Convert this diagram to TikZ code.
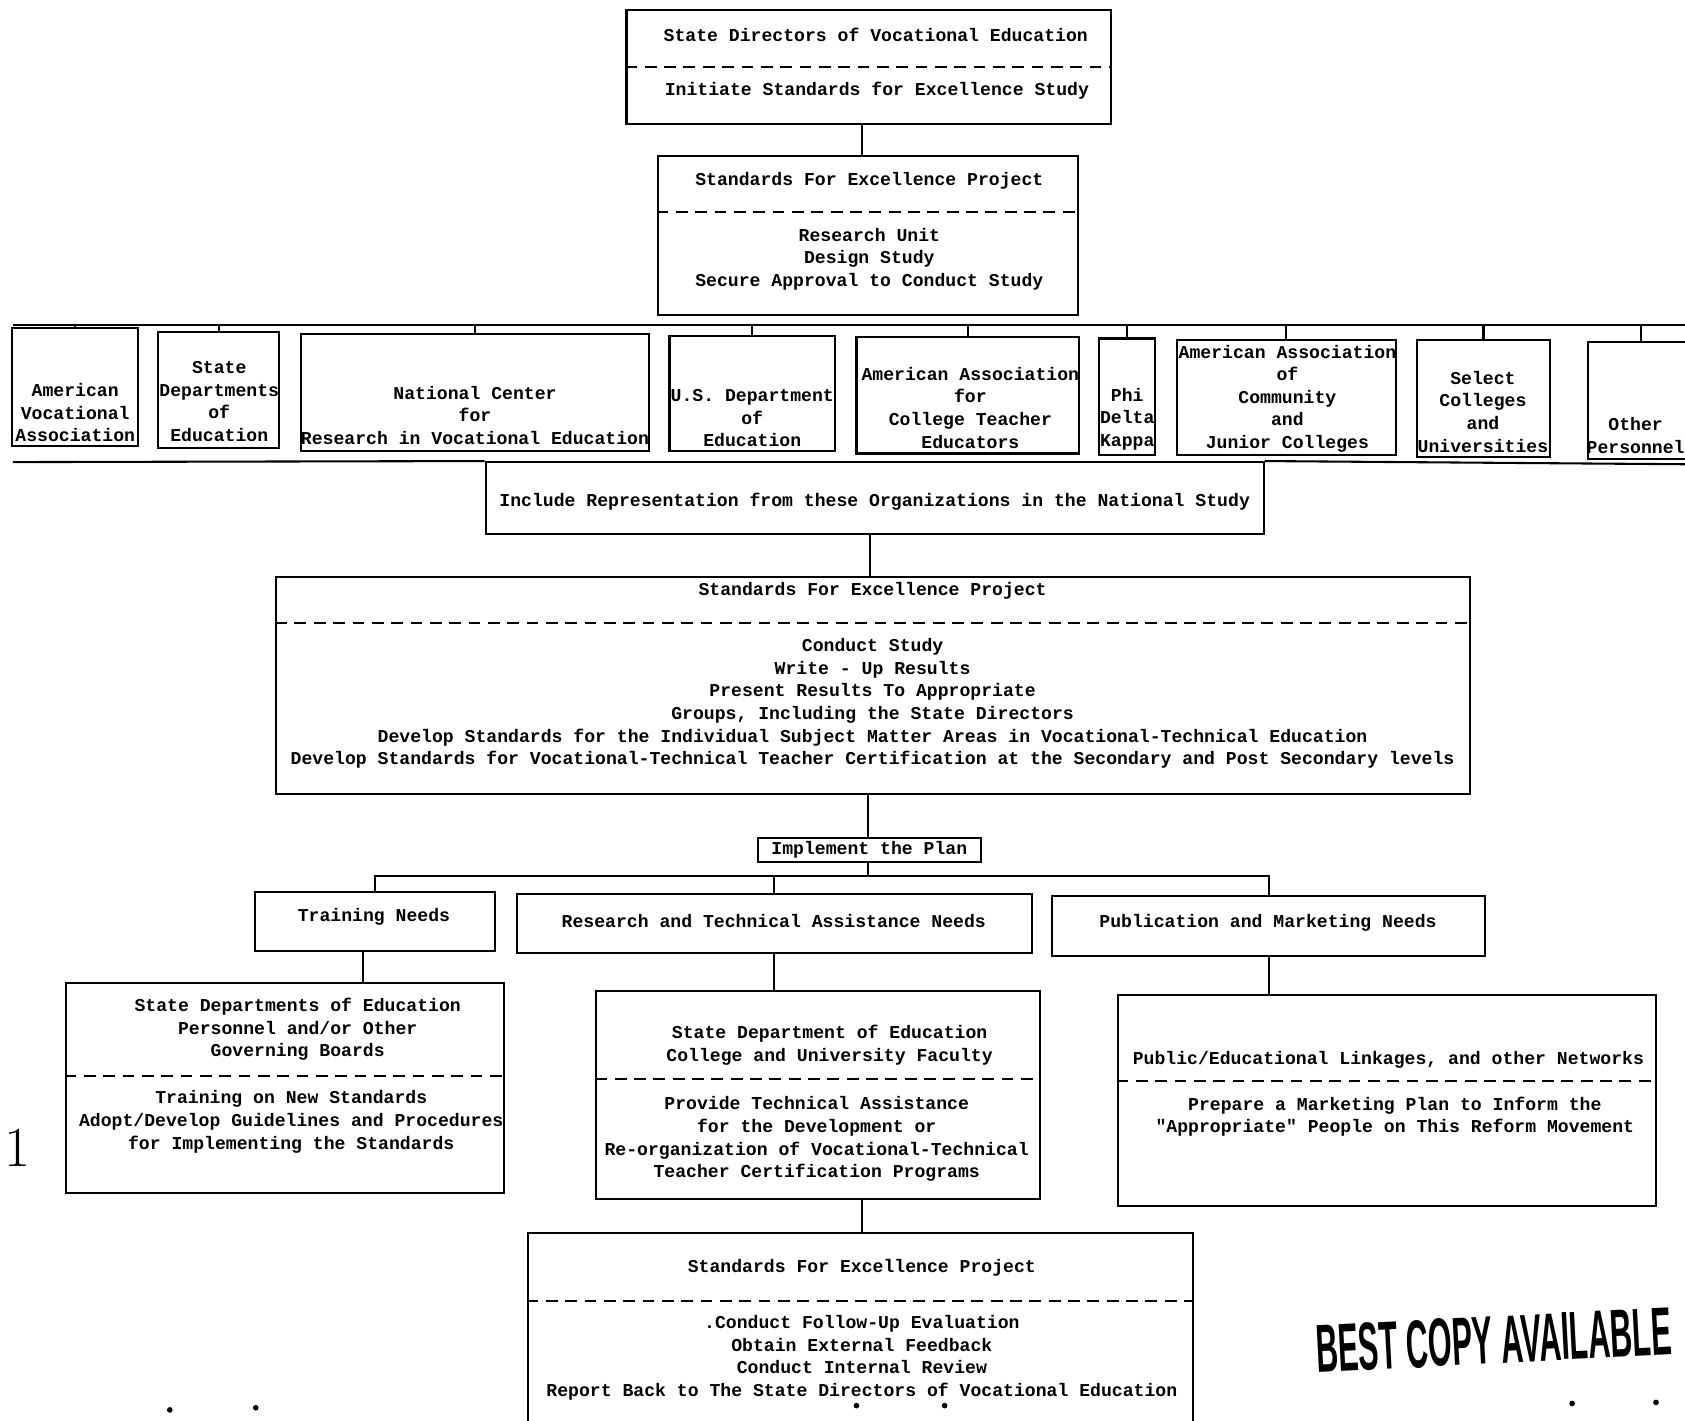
\documentclass[tikz,border=0pt]{standalone}
\usepackage{fontspec}
\setmonofont{Liberation Mono}
\setsansfont{Liberation Sans}
\usepackage{graphicx}
\usetikzlibrary{fit}
\newcommand\lblfont{\fontsize{9.6}{12}\selectfont\ttfamily\bfseries}
\tikzset{
  box/.style={draw, line width=1.1pt, inner sep=0pt, rectangle},
  lbl/.style={font=\lblfont, align=center, inner sep=0pt},
  dline/.style={line width=1.1pt, dash pattern=on 0.22cm off 0.14cm},
  conn/.style={line width=1.1pt},
}
\begin{document}
\begin{tikzpicture}[x=0.02cm, y=-0.02cm]
\fill[white] (0,0) rectangle (1568,1322);
\useasboundingbox (0,0) rectangle (1568,1322);

% top box
\node[box, fit={(583,9)(1034,115)}] (b1) {};
\node[lbl] (b1t) at (815,32) {State Directors of Vocational Education};
\draw[dline] (b1.west |- 0,62) -- (b1.east |- 0,62);
\node[lbl] (b1s) at (816,84) {Initiate Standards for Excellence Study};

% second box
\node[box, fit={(612,145)(1003,293)}] (b2) {};
\node[lbl] (b2t) at (809,168) {Standards For Excellence Project};
\draw[dline] (b2.west |- 0,197) -- (b2.east |- 0,197);
\node[lbl] (b2s) at (809,241) {Research Unit\\Design Study\\Secure Approval to Conduct Study};
\coordinate (c1) at (802,0);
\draw[conn] (c1 |- b1.south) -- (c1 |- b2.north);

% organisations
\coordinate (busL) at (12,302);
\coordinate (busR) at (1568,302);
\draw[conn] (busL) -- (busR);
\node[box, fit={(11,305)(128,415)}] (o1) {};
\node[lbl] (o1t) at (70,384) {American\\Vocational\\Association};
\node[box, fit={(147,309)(260,417)}] (o2) {};
\node[lbl] (o2t) at (204,373.5) {State\\Departments\\of\\Education};
\node[box, fit={(280,311)(604,420)}] (o3) {};
\node[lbl] (o3t) at (442,386.5) {National Center\\for\\Research in Vocational Education};
\node[box, fit={(623,313)(777,420)}] (o4) {};
\node[lbl] (o4t) at (700,389) {U.S. Department\\of\\Education};
\node[box, fit={(797,314)(1004,422)}] (o5) {};
\node[lbl] (o5t) at (903,379.5) {American Association\\for\\College Teacher\\Educators};
\node[box, fit={(1023,315)(1075,423)}] (o6) {};
\node[lbl] (o6t) at (1049,390) {Phi\\Delta\\Kappa};
\node[box, fit={(1095,316)(1299,423)}] (o7) {};
\node[lbl] (o7t) at (1198,371) {American Association\\of\\Community\\and\\Junior Colleges};
\node[box, fit={(1319,316)(1442,425)}] (o8) {};
\node[lbl] (o8t) at (1380,383) {Select\\Colleges\\and\\Universities};
\node[box, fit={(1478,318)(1590,427)}] (o9) {};
\node[lbl] (o9t) at (1522,405) {Other\\Personnel};
\foreach \o in {o1,o2,o3,o4,o5,o6,o7,o8}
  \draw[conn] (\o.north) -- (\o.north |- busL);
\coordinate (c9) at (1527,0);
\draw[conn] (c9 |- o9.north) -- (c9 |- busL);

% include representation
\coordinate (brL) at (12,430);
\coordinate (brR) at (1568,432);
\node[box, fit={(452,430)(1176,497)}] (inc) {};
\node[lbl] (inct) at (814,467) {Include Representation from these Organizations in the National Study};
\draw[conn] (brL) -- (inc.north west);
\draw[conn] (inc.north east) -- (brR);

% project box
\node[box, fit={(257,537)(1368,739)}] (b4) {};
\node[lbl] (b4t) at (812,550) {Standards For Excellence Project};
\draw[dline] (b4.west |- 0,580) -- (b4.east |- 0,580);
\node[lbl] (b4s) at (812,654.5) {Conduct Study\\Write - Up Results\\Present Results To Appropriate\\Groups, Including the State Directors\\Develop Standards for the Individual Subject Matter Areas in Vocational-Technical Education\\Develop Standards for Vocational-Technical Teacher Certification at the Secondary and Post Secondary levels};
\coordinate (c2) at (810,0);
\draw[conn] (c2 |- inc.south) -- (c2 |- b4.north);

% implement
\node[box, fit={(705,780)(913,802)}] (imp) {};
\node[lbl] (impt) at (809,791) {Implement the Plan};
\coordinate (c3) at (808,0);
\draw[conn] (c3 |- b4.south) -- (c3 |- imp.north);

% needs
\node[box, fit={(237,830)(461,885)}] (tn) {};
\node[lbl] (tnt) at (348,853) {Training Needs};
\node[box, fit={(481,832)(960,887)}] (rn) {};
\node[lbl] (rnt) at (720,857) {Research and Technical Assistance Needs};
\node[box, fit={(979,834)(1382,890)}] (pn) {};
\node[lbl] (pnt) at (1180,859) {Publication and Marketing Needs};
\coordinate (bus2) at (808,815);
\draw[conn] (c3 |- imp.south) -- (c3 |- bus2);
\draw[conn] (tn.north) -- (tn.north |- bus2) -- (pn.north |- bus2) -- (pn.north);
\draw[conn] (rn.north) -- (rn.north |- bus2);

% lower boxes
\node[box, fit={(61,915)(469,1110)}] (L) {};
\node[lbl] (L1) at (277,958) {State Departments of Education\\Personnel and/or Other\\Governing Boards};
\draw[dline] (L.west |- 0,1001) -- (L.east |- 0,1001);
\node[lbl] (L2) at (271,1044) {Training on New Standards\\Adopt/Develop Guidelines and Procedures\\for Implementing the Standards};

\node[box, fit={(555,922)(968,1116)}] (M) {};
\node[lbl] (M1) at (772,972.5) {State Department of Education\\College and University Faculty};
\draw[dline] (M.west |- 0,1004) -- (M.east |- 0,1004);
\node[lbl] (M2) at (760,1060) {Provide Technical Assistance\\for the Development or\\Re-organization of Vocational-Technical\\Teacher Certification Programs};

\node[box, fit={(1040,926)(1541,1122)}] (R) {};
\node[lbl] (R1) at (1292,986) {Public/Educational Linkages, and other Networks};
\draw[dline] (R.west |- 0,1006) -- (R.east |- 0,1006);
\node[lbl] (R2) at (1298,1039) {Prepare a Marketing Plan to Inform the\\"Appropriate" People on This Reform Movement};

\coordinate (c4) at (338,0);
\draw[conn] (c4 |- tn.south) -- (c4 |- L.north);
\draw[conn] (rn.south) -- (rn.south |- M.north);
\draw[conn] (pn.south) -- (pn.south |- R.north);

% bottom box
\node[box, fit={(491,1147)(1110,1345)}] (B) {};
\node[lbl] (Bt) at (802,1180) {Standards For Excellence Project};
\draw[dline] (B.west |- 0,1211) -- (B.east |- 0,1211);
\node[lbl] (Bs) at (802,1263.5) {.Conduct Follow-Up Evaluation\\Obtain External Feedback\\Conduct Internal Review\\Report Back to The State Directors of Vocational Education};
\coordinate (c5) at (802,0);
\draw[conn] (c5 |- M.south) -- (c5 |- B.north);

% page marks
\node[font=\fontsize{30}{30}\selectfont, inner sep=0pt] (pg) at (16,1068) {1};
\node[rotate=3, inner sep=0pt] (bca) at (1390,1247)
  {\scalebox{0.45}[1]{\fontsize{36}{36}\selectfont\sffamily\bfseries BEST COPY AVAILABLE}};
\foreach \p in {(158,1312),(238,1310),(797,1308),(879,1308),(1463,1306),(1541,1305)}
  \fill \p circle[radius=1.5pt];
\end{tikzpicture}
\end{document}
